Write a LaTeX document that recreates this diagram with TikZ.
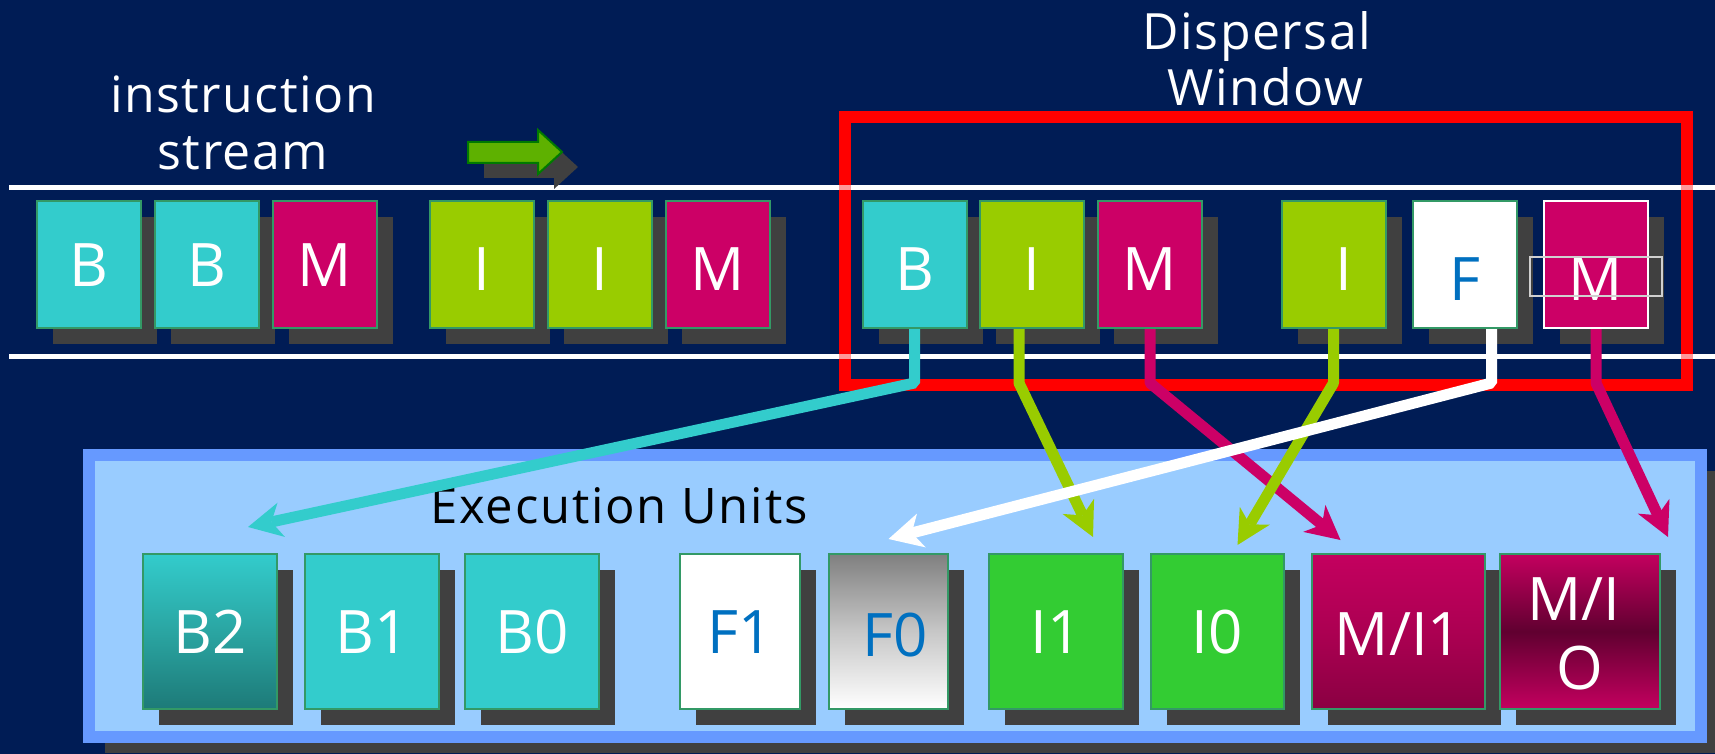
\documentclass[tikz,border=0pt]{standalone}
\usepackage{fontspec}
\setmainfont{Open Sans}
\usetikzlibrary{arrows.meta,shadows,calc}

\definecolor{navy}{HTML}{001C55}
\definecolor{bcyan}{HTML}{33CCCC}
\definecolor{bcyandark}{HTML}{1D7A78}
\definecolor{bcyanmid}{HTML}{2AA5A2}
\definecolor{bmag}{HTML}{CC0066}
\definecolor{umag}{HTML}{C4005F}
\definecolor{umagmid}{HTML}{AC0052}
\definecolor{umagdark}{HTML}{8A0042}
\definecolor{umagdeep}{HTML}{600030}
\definecolor{bolive}{HTML}{99CC00}
\definecolor{bgreen}{HTML}{33CC33}
\definecolor{edge}{HTML}{339966}
\definecolor{shadowgray}{HTML}{404040}
\definecolor{panelfill}{HTML}{99CCFF}
\definecolor{paneledge}{HTML}{6699FF}
\definecolor{fblue}{HTML}{0070C0}
\definecolor{arrowfill}{HTML}{5EB100}
\definecolor{arrowedge}{HTML}{007A00}
\definecolor{framegray}{HTML}{D0D0D0}

\tikzset{
  slot/.style={rectangle, draw=edge, line width=2pt, inner sep=0pt,
    minimum width=104pt, minimum height=127pt, text=white,
    font=\fontsize{60}{69}\selectfont, text height=43pt, text depth=0pt,
    drop shadow={shadow xshift=16pt, shadow yshift=-16pt, fill=shadowgray, opacity=1}},
  unit/.style={slot, minimum height=155pt},
  lift/.style={text height=#1},
  conn/.style={line width=11pt, line join=bevel,
    -{Stealth[length=34pt, width=35pt, inset=10pt, line width=0pt]}},
  caption/.style={text=white, font=\fontsize{50}{57}\selectfont\addfontfeature{LetterSpace=3}, inner sep=0pt, anchor=base},
  unitlabel/.style={text=white, font=\fontsize{60}{69}\selectfont, inner sep=0pt, anchor=base},
}

\begin{document}
\begin{tikzpicture}[x=1pt, y=-1pt]
\useasboundingbox (0,0) rectangle (1715,754);
\fill[navy] (0,0) rectangle (1715,754);

% stream rails
\fill[white] (9,185) rectangle (1715,190);
\fill[white] (9,354) rectangle (1715,359);

% dispersal window frame, rails showing through it
\node[draw=red, line width=12pt, minimum width=842pt, minimum height=268pt, inner sep=0pt]
  (window) at (1266,251) {};
\fill[white, opacity=0.6] (839,185) rectangle (851,190);
\fill[white, opacity=0.6] (1681,185) rectangle (1693,190);
\fill[white, opacity=0.6] (839,354) rectangle (851,359);
\fill[white, opacity=0.6] (1681,354) rectangle (1693,359);

% flow direction arrow with its shadow
\fill[shadowgray] (484,157) -- (554,157) -- (554,145) -- (578,167) -- (554,189) -- (554,178) -- (484,178) -- cycle;
\filldraw[fill=arrowfill, draw=arrowedge, line width=2pt]
  (468,142) -- (538,142) -- (538,130) -- (562,152) -- (538,174) -- (538,163) -- (468,163) -- cycle;

% captions
\node[caption] (capA) at (243,113) {instruction};
\node[caption] (capB) at (243,170) {stream};
\node[caption] (capC) at (1257,50) {Dispersal};
\node[caption] (capD) at (1265.5,106) {Window};

% instruction stream
\node[slot, fill=bcyan] (sB1) at (89,264.5) {B};
\node[slot, fill=bcyan] (sB2) at (207.2,264.5) {B};
\node[slot, fill=bmag]  (sM1) at (325,264.5) {M};
\node[slot, fill=bolive, lift=51pt] (sI1) at (482,264.5) {I};
\node[slot, fill=bolive, lift=51pt] (sI2) at (600,264.5) {I};
\node[slot, fill=bmag, lift=51pt]   (sM2) at (718,264.5) {M};
\node[slot, fill=bcyan, lift=51pt]  (wB3) at (914.5,264.5) {B};
\node[slot, fill=bolive, lift=51pt] (wI3) at (1032,264.5) {I};
\node[slot, fill=bmag, lift=51pt]   (wM3) at (1150,264.5) {M};
\node[slot, fill=bolive, lift=51pt] (wI4) at (1333.5,264.5) {\hspace*{20pt}I};
\node[slot, fill=white, text=fblue, lift=71pt] (wF) at (1464.5,264.5) {F};
\node[slot, fill=bmag, draw=white, lift=71pt] (wM4) at (1596,264.5) {M};
\draw[framegray, line width=1.5pt] ($(wM4.center)+(-66,-7.5)$) rectangle ($(wM4.center)+(66,31.5)$);

% execution units panel
\node[rectangle, fill=panelfill, draw=paneledge, line width=12pt, inner sep=0pt,
  minimum width=1612pt, minimum height=282pt,
  drop shadow={shadow xshift=16pt, shadow yshift=-16pt, fill=shadowgray, opacity=1}]
  (units) at (895,596) {};
\node[caption, text=black, anchor=base west,
  font=\fontsize{49}{56}\selectfont\addfontfeature{LetterSpace=3.7}]
  (capE) at (430,523) {Execution Units};

% execution units
\node[unit, minimum width=134pt, top color=bcyan, bottom color=bcyandark, middle color=bcyanmid] (uB2) at (210,631.5) {B2};
\node[unit, minimum width=134pt, fill=bcyan] (uB1) at (372,631.5) {B1};
\node[unit, minimum width=134pt, fill=bcyan] (uB0) at (532,631.5) {B0};
\node[unit, minimum width=120pt, fill=white, text=fblue] (uF1) at (740,631.5) {F1};
\node[unit, minimum width=119pt, top color=black!50, bottom color=white, middle color=black!22, text=fblue, lift=50pt] (uF0) at (888.5,631.5) {\hspace*{14pt}F0};
\node[unit, minimum width=134pt, fill=bgreen] (uI1) at (1056,631.5) {I1};
\node[unit, minimum width=133pt, fill=bgreen] (uI0) at (1217.5,631.5) {I0};
\node[unit, minimum width=173pt, top color=umag, bottom color=umagdark, middle color=umagmid, lift=47pt] (uMI1) at (1398.5,631.5) {M/I1};
\node[unit, minimum width=160pt, top color=umag, bottom color=umag, middle color=umagdeep] (uMI0) at (1580,631.5) {};
\node[unitlabel] (uMI0a) at ($(uMI0.center)+(-6,-11.5)$) {M/I};
\node[unitlabel] (uMI0b) at ($(uMI0.center)+(0,57.5)$) {O};

% dispersal to the execution units
\draw[conn, bcyan] (wB3.south) -- ++(0,54) -- ($(uB2.north)+(38,-26)$);
\draw[conn, bolive] ($(wI3.south)+(-13,0)$) -- ++(0,54) -- ($(uI1.north)+(37,-16)$);
\draw[conn, bmag] (wM3.south) -- ++(0,54) -- ($(uMI1.north)+(-58,-13)$);
\draw[conn, bolive] (wI4.south) -- ++(0,54) -- ($(uI0.north)+(20,-8)$);
\draw[conn, white] ($(wF.south)+(27,0)$) -- ++(0,54) -- ($(uF0.north)+(0,-14)$);
\draw[conn, bmag] (wM4.south) -- ++(0,54) -- ($(uMI0.north)+(88,-16)$);
\end{tikzpicture}
\end{document}
